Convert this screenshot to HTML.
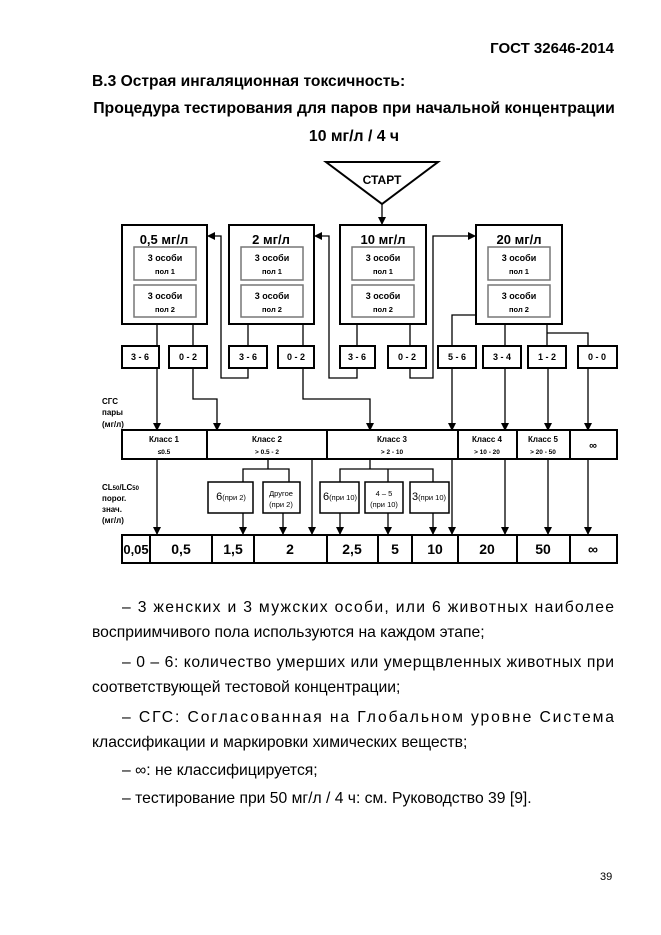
<!DOCTYPE html>
<html><head><meta charset="utf-8"><style>
html,body{margin:0;padding:0;background:#fff}
svg{display:block}
text{font-family:"Liberation Sans",sans-serif;fill:#000}
.b{font-weight:bold}
</style></head><body>
<svg width="661" height="935" viewBox="0 0 661 935" xmlns="http://www.w3.org/2000/svg">
<defs><marker id="a" markerWidth="8" markerHeight="8" refX="7" refY="4" orient="auto" markerUnits="userSpaceOnUse"><path d="M0,0 L8,4 L0,8 z" fill="#000"/></marker></defs>
<text x="614" y="53" class="b" font-size="15" text-anchor="end">ГОСТ 32646-2014</text>
<text x="92" y="86" class="b" font-size="15.6">В.3 Острая ингаляционная токсичность:</text>
<text x="354" y="113" class="b" font-size="15.8" text-anchor="middle">Процедура тестирования для паров при начальной концентрации</text>
<text x="354" y="141" class="b" font-size="15.8" text-anchor="middle">10 мг/л / 4 ч</text>

<g stroke="#000" fill="none" stroke-width="1.3">
<polygon points="326,162 438,162 382,204" stroke-width="2" fill="#fff"/>
<line x1="382" y1="204" x2="382" y2="224" marker-end="url(#a)"/>
<rect x="122" y="225" width="85" height="99" stroke-width="2"/>
<rect x="229" y="225" width="85" height="99" stroke-width="2"/>
<rect x="340" y="225" width="86" height="99" stroke-width="2"/>
<rect x="476" y="225" width="86" height="99" stroke-width="2"/>
<g stroke="#777" stroke-width="1.5">
<rect x="134" y="247" width="62" height="33"/><rect x="134" y="285" width="62" height="32"/>
<rect x="241" y="247" width="62" height="33"/><rect x="241" y="285" width="62" height="32"/>
<rect x="352" y="247" width="62" height="33"/><rect x="352" y="285" width="62" height="32"/>
<rect x="488" y="247" width="62" height="33"/><rect x="488" y="285" width="62" height="32"/>
</g>
<g stroke-width="2">
<rect x="122" y="346" width="37" height="22"/><rect x="169" y="346" width="38" height="22"/>
<rect x="229" y="346" width="38" height="22"/><rect x="278" y="346" width="36" height="22"/>
<rect x="340" y="346" width="35" height="22"/><rect x="388" y="346" width="38" height="22"/>
<rect x="438" y="346" width="38" height="22"/><rect x="483" y="346" width="38" height="22"/>
<rect x="528" y="346" width="38" height="22"/><rect x="578" y="346" width="39" height="22"/>
</g>
<line x1="157" y1="324" x2="157" y2="346"/><line x1="193" y1="324" x2="193" y2="346"/>
<line x1="248" y1="324" x2="248" y2="346"/><line x1="303" y1="324" x2="303" y2="346"/>
<line x1="357" y1="324" x2="357" y2="346"/><line x1="410" y1="324" x2="410" y2="346"/>
<polyline points="476,315 452,315 452,346"/>
<line x1="505" y1="324" x2="505" y2="346"/>
<polyline points="547,324 547,346"/><polyline points="547,333 588,333 588,346"/>
<polyline points="248,368 248,378 221,378 221,236 208,236" marker-end="url(#a)"/>
<polyline points="357,368 357,378 329,378 329,236 315,236" marker-end="url(#a)"/>
<polyline points="410,368 410,378 433,378 433,236 475,236" marker-end="url(#a)"/>
<line x1="157" y1="368" x2="157" y2="430" marker-end="url(#a)"/>
<polyline points="193,368 193,399 217,399 217,430" marker-end="url(#a)"/>
<polyline points="303,368 303,399 370,399 370,430" marker-end="url(#a)"/>
<line x1="452" y1="368" x2="452" y2="430" marker-end="url(#a)"/>
<line x1="505" y1="368" x2="505" y2="430" marker-end="url(#a)"/>
<line x1="548" y1="368" x2="548" y2="430" marker-end="url(#a)"/>
<line x1="588" y1="368" x2="588" y2="430" marker-end="url(#a)"/>
<rect x="122" y="430" width="495" height="29" stroke-width="2"/>
<line x1="207" y1="430" x2="207" y2="459" stroke-width="2"/><line x1="327" y1="430" x2="327" y2="459" stroke-width="2"/>
<line x1="458" y1="430" x2="458" y2="459" stroke-width="2"/><line x1="517" y1="430" x2="517" y2="459" stroke-width="2"/>
<line x1="570" y1="430" x2="570" y2="459" stroke-width="2"/>
<line x1="268" y1="459" x2="268" y2="469"/><polyline points="243,482 243,469 289,469 289,482"/>
<line x1="370" y1="459" x2="370" y2="469"/><polyline points="340,482 340,469 433,469 433,482"/><line x1="388" y1="469" x2="388" y2="482"/>
<g stroke-width="1.5">
<rect x="208" y="482" width="45" height="31"/><rect x="263" y="482" width="37" height="31"/>
<rect x="320" y="482" width="39" height="31"/><rect x="365" y="482" width="38" height="31"/><rect x="410" y="482" width="39" height="31"/>
</g>
<line x1="243" y1="513" x2="243" y2="534" marker-end="url(#a)"/>
<line x1="283" y1="513" x2="283" y2="534" marker-end="url(#a)"/>
<line x1="340" y1="513" x2="340" y2="534" marker-end="url(#a)"/>
<line x1="388" y1="513" x2="388" y2="534" marker-end="url(#a)"/>
<line x1="433" y1="513" x2="433" y2="534" marker-end="url(#a)"/>
<line x1="157" y1="459" x2="157" y2="534" marker-end="url(#a)"/>
<line x1="312" y1="459" x2="312" y2="534" marker-end="url(#a)"/>
<line x1="452" y1="459" x2="452" y2="534" marker-end="url(#a)"/>
<line x1="505" y1="459" x2="505" y2="534" marker-end="url(#a)"/>
<line x1="548" y1="459" x2="548" y2="534" marker-end="url(#a)"/>
<line x1="588" y1="459" x2="588" y2="534" marker-end="url(#a)"/>
<rect x="122" y="535" width="495" height="28" stroke-width="2"/>
<g stroke-width="2">
<line x1="150" y1="535" x2="150" y2="563"/><line x1="212" y1="535" x2="212" y2="563"/><line x1="254" y1="535" x2="254" y2="563"/>
<line x1="327" y1="535" x2="327" y2="563"/><line x1="378" y1="535" x2="378" y2="563"/><line x1="412" y1="535" x2="412" y2="563"/>
<line x1="458" y1="535" x2="458" y2="563"/><line x1="517" y1="535" x2="517" y2="563"/><line x1="570" y1="535" x2="570" y2="563"/>
</g>
</g>
<text x="382" y="184" class="b" font-size="12" text-anchor="middle">СТАРТ</text>
<g class="b" font-size="13" text-anchor="middle">
<text x="164" y="244">0,5 мг/л</text><text x="271" y="244">2 мг/л</text><text x="383" y="244">10 мг/л</text><text x="519" y="244">20 мг/л</text>
</g>
<g class="b" font-size="9" text-anchor="middle">
<text x="165" y="261">3 особи</text><text x="165" y="274" font-size="7.5">пол 1</text><text x="165" y="299">3 особи</text><text x="165" y="312" font-size="7.5">пол 2</text>
<text x="272" y="261">3 особи</text><text x="272" y="274" font-size="7.5">пол 1</text><text x="272" y="299">3 особи</text><text x="272" y="312" font-size="7.5">пол 2</text>
<text x="383" y="261">3 особи</text><text x="383" y="274" font-size="7.5">пол 1</text><text x="383" y="299">3 особи</text><text x="383" y="312" font-size="7.5">пол 2</text>
<text x="519" y="261">3 особи</text><text x="519" y="274" font-size="7.5">пол 1</text><text x="519" y="299">3 особи</text><text x="519" y="312" font-size="7.5">пол 2</text>
<text x="140" y="360">3 - 6</text><text x="188" y="360">0 - 2</text><text x="248" y="360">3 - 6</text><text x="296" y="360">0 - 2</text>
<text x="357" y="360">3 - 6</text><text x="407" y="360">0 - 2</text><text x="457" y="360">5 - 6</text><text x="502" y="360">3 - 4</text>
<text x="547" y="360">1 - 2</text><text x="597" y="360">0 - 0</text>
<text x="164" y="442" font-size="8">Класс 1</text><text x="164" y="454" font-size="6.5">≤0.5</text>
<text x="267" y="442" font-size="8">Класс 2</text><text x="267" y="454" font-size="6.5">&gt; 0.5 - 2</text>
<text x="392" y="442" font-size="8">Класс 3</text><text x="392" y="454" font-size="6.5">&gt; 2 - 10</text>
<text x="487" y="442" font-size="8">Класс 4</text><text x="487" y="454" font-size="6.5">&gt; 10 - 20</text>
<text x="543" y="442" font-size="8">Класс 5</text><text x="543" y="454" font-size="6.5">&gt; 20 - 50</text>
<text x="593" y="449" font-size="11">∞</text>
</g>
<g class="b" font-size="8">
<text x="102" y="404">СГС</text><text x="102" y="415">пары</text><text x="102" y="427">(мг/л)</text>
<text x="102" y="490">CL<tspan font-size="6">50</tspan>/LC<tspan font-size="6">50</tspan></text><text x="102" y="501">порог.</text><text x="102" y="512">знач.</text><text x="102" y="523">(мг/л)</text>
</g>
<g font-size="7.5" text-anchor="middle">
<text x="231" y="500"><tspan font-size="11">6</tspan>(при 2)</text>
<text x="281" y="496">Другое</text><text x="281" y="507">(при 2)</text>
<text x="340" y="500"><tspan font-size="11">6</tspan>(при 10)</text>
<text x="384" y="496">4 – 5</text><text x="384" y="507">(при 10)</text>
<text x="429" y="500"><tspan font-size="11">3</tspan>(при 10)</text>
</g>
<g class="b" font-size="14" text-anchor="middle">
<text x="136" y="554" font-size="13">0,05</text><text x="181" y="554">0,5</text><text x="233" y="554">1,5</text><text x="290" y="554">2</text>
<text x="352" y="554">2,5</text><text x="395" y="554">5</text><text x="435" y="554">10</text><text x="487" y="554">20</text>
<text x="543" y="554">50</text><text x="593" y="554">∞</text>
</g>
<g font-size="15.7">
<text x="122" y="612" textLength="492" lengthAdjust="spacing">– 3 женских и 3 мужских особи, или 6 животных наиболее</text>
<text x="92" y="637">восприимчивого пола используются на каждом этапе;</text>
<text x="122" y="667" textLength="492" lengthAdjust="spacing">– 0 – 6: количество умерших или умерщвленных животных при</text>
<text x="92" y="692">соответствующей тестовой концентрации;</text>
<text x="122" y="722" textLength="492" lengthAdjust="spacing">– СГС: Согласованная на Глобальном уровне Система</text>
<text x="92" y="747">классификации и маркировки химических веществ;</text>
<text x="122" y="775">– ∞: не классифицируется;</text>
<text x="122" y="803">– тестирование при 50 мг/л / 4 ч: см. Руководство 39 [9].</text>
</g>
<text x="600" y="880" font-size="11">39</text>
</svg>
</body></html>
